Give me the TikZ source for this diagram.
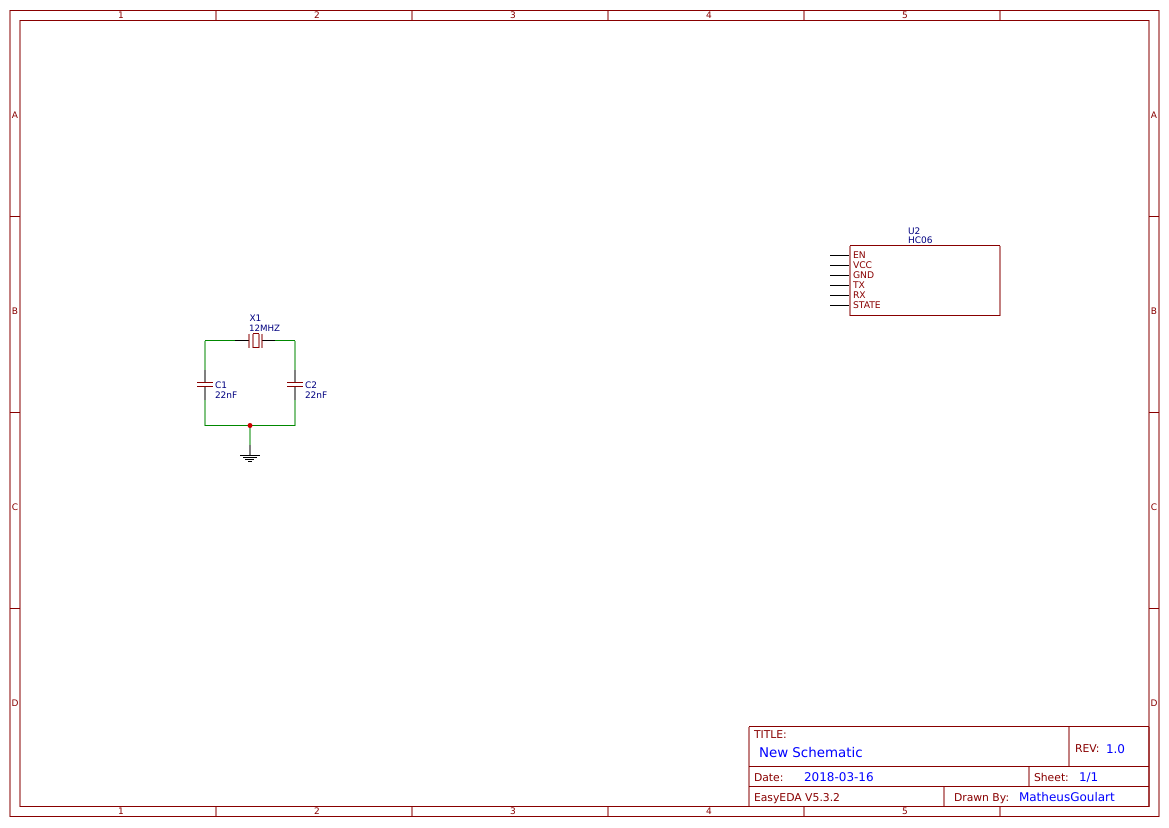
\documentclass[tikz,border=0pt]{standalone}
\usepackage{fontspec}
\setmainfont{DejaVu Sans}
\definecolor{frame}{HTML}{880000}
\definecolor{wire}{HTML}{008800}
\definecolor{des}{HTML}{000080}
\definecolor{tval}{HTML}{0000FF}
\newcommand{\fs}[1]{\fontsize{#1}{#1}\selectfont}
\tikzset{
  x=1pt,y=-1pt,
  frameline/.style={draw=frame,line width=1pt},
  vframe/.style={draw=frame,line width=2pt,draw opacity=.5},
  pinline/.style={draw=black,line width=1pt},
  vpin/.style={draw=black,line width=2pt,draw opacity=.5},
  wireline/.style={draw=wire,line width=1pt},
  vwire/.style={draw=wire,line width=2pt,draw opacity=.5},
  lab/.style={inner sep=0pt,outer sep=0pt,anchor=base west},
  zone/.style={inner sep=0pt,text=frame,font=\fs{9}},
  tlab/.style={lab,text=frame,font=\fs{10.8}},
  tval/.style={lab,text=tval,font=\fs{12}},
  desig/.style={lab,text=des,font=\fs{9}},
  pinname/.style={lab,text=frame,font=\fs{9.2}},
}
\begin{document}
\begin{tikzpicture}
\useasboundingbox (0,0) rectangle (1169,827);
% sheet frame
\draw[frameline] (10,10.5) -- (1159,10.5);
\draw[frameline] (10,816.5) -- (1159,816.5);
\draw[frameline] (20,20.5) -- (1149,20.5);
\draw[frameline] (20,806.5) -- (1149,806.5);
\draw[vframe] (10,10) -- (10,817);
\draw[vframe] (1159,10) -- (1159,817);
\draw[vframe] (20,20) -- (20,807);
\draw[vframe] (1149,20) -- (1149,807);
\foreach \xx in {216,412,608,804,1000}{
  \draw[vframe] (\xx,10.5) -- (\xx,20.5);
  \draw[vframe] (\xx,806.5) -- (\xx,816.5);
}
\foreach \yy in {216.5,412.5,608.5}{
  \draw[frameline] (10,\yy) -- (20,\yy);
  \draw[frameline] (1149,\yy) -- (1159,\yy);
}
\foreach \xx/\t in {121/1,317/2,513/3,709/4,905/5}{
  \node[zone] (top\t) at (\xx,15.5) {\t};
  \node[zone] (bot\t) at (\xx,811.5) {\t};
}
\foreach \yy/\t in {115/A,311/B,507/C,703/D}{
  \node[zone] (lft\t) at (15,\yy) {\t};
  \node[zone] (rgt\t) at (1154,\yy) {\t};
}
% title block
\draw[frameline] (749,726.5) -- (1149,726.5);
\draw[frameline] (749,766.5) -- (1149,766.5);
\draw[frameline] (749,786.5) -- (1149,786.5);
\draw[vframe] (749,726.5) -- (749,806.5);
\draw[vframe] (1149,726.5) -- (1149,806.5);
\draw[vframe] (1069,726.5) -- (1069,766.5);
\draw[vframe] (1029,766.5) -- (1029,786.5);
\draw[vframe] (944,786.5) -- (944,806.5);
\node[tlab] (ttitle) at (754,738.5) {TITLE:};
\node[lab,text=tval,font=\fs{13.4}] (tname) at (759,757) {New Schematic};
\node[tlab] (trev) at (1075,752) {REV:};
\node[tval] (trevv) at (1106,753) {1.0};
\node[tlab] (tdate) at (754,781) {Date:};
\node[tval] (tdatev) at (804,781) {2018-03-16};
\node[tlab] (tsheet) at (1034,781) {Sheet:};
\node[tval] (tsheetv) at (1079,781) {1/1};
\node[tlab] (tver) at (754,801) {EasyEDA V5.3.2};
\node[tlab] (tdrawn) at (954,801) {Drawn By:};
\node[tval] (tdrawnv) at (1019,801) {MatheusGoulart};
% crystal and capacitors: pin points
\coordinate (xl) at (235,340.5);
\coordinate (xlp) at (248.5,340.5);
\coordinate (xrp) at (262,340.5);
\coordinate (xr) at (275,340.5);
\coordinate (tl) at (205,340.5);
\coordinate (tr) at (295,340.5);
\coordinate (c1t) at (205,370);
\coordinate (c1tp) at (205,383);
\coordinate (c1bp) at (205,387);
\coordinate (c1b) at (205,400);
\coordinate (c2t) at (295,370);
\coordinate (c2tp) at (295,383);
\coordinate (c2bp) at (295,387);
\coordinate (c2b) at (295,400);
\coordinate (bl) at (205,425.5);
\coordinate (br) at (295,425.5);
\coordinate (j) at (250,425.5);
\coordinate (g1) at (250,445);
\coordinate (g2) at (250,455);
% wires
\draw[wireline] (xl) -- (tl);
\draw[wireline] (xr) -- (tr);
\draw[wireline] (bl) -- (br);
\draw[vwire] (tl) -- (c1t);
\draw[vwire] (tr) -- (c2t);
\draw[vwire] (c1b) -- (bl);
\draw[vwire] (c2b) -- (br);
\draw[vwire] (j) -- (g1);
% pins
\draw[pinline] (xl) -- (xlp);
\draw[pinline] (xrp) -- (xr);
\draw[vpin] (c1t) -- (c1tp);
\draw[vpin] (c1b) -- (c1bp);
\draw[vpin] (c2t) -- (c2tp);
\draw[vpin] (c2b) -- (c2bp);
\draw[vpin] (g1) -- (g2);
% X1
\draw[vframe] (249,333.5) -- (249,348);
\draw[vframe] (253,334) -- (253,347.5);
\draw[vframe] (259,334) -- (259,347.5);
\draw[frameline] (253,333.5) -- (259,333.5);
\draw[frameline] (253,347.5) -- (259,347.5);
\draw[vframe] (262,333.5) -- (262,348);
% C1, C2
\draw[frameline] (197,382.5) -- (213,382.5);
\draw[frameline] (197,386.5) -- (213,386.5);
\draw[frameline] (287,382.5) -- (303,382.5);
\draw[frameline] (287,386.5) -- (303,386.5);
% junction
\fill[red!80!black] (j) circle (2.5);
% GND
\draw[line width=1pt] (240,455.5) -- (260,455.5);
\draw[line width=1pt] (243,457.5) -- (257,457.5);
\draw[line width=1pt] (245,459.5) -- (254,459.5);
\draw[line width=1pt] (248,461.5) -- (252,461.5);
% labels
\node[desig] (x1) at (249.5,321) {X1};
\node[desig,font=\fs{8.7}] (x1v) at (249,331) {12MHZ};
\node[desig] (c1) at (215,388.5) {C1};
\node[desig] (c1v) at (215,398) {22nF};
\node[desig] (c2) at (305,388.5) {C2};
\node[desig] (c2v) at (305,398) {22nF};
% U2
\draw[frameline] (850,245.5) -- (1000,245.5);
\draw[frameline] (850,315.5) -- (1000,315.5);
\draw[vframe] (850,245.5) -- (850,315.5);
\draw[vframe] (1000,245.5) -- (1000,315.5);
\node[desig] (u2) at (908,234) {U2};
\node[desig] (u2v) at (908,243) {HC06};
\foreach \yy/\t in {255.5/EN,265.5/VCC,275.5/GND,285.5/TX,295.5/RX,305.5/STATE}{
  \draw[pinline] (830,\yy) -- (849,\yy);
  \node[pinname] (p\t) at (853,\yy+3.2) {\t};
}
\end{tikzpicture}
\end{document}
